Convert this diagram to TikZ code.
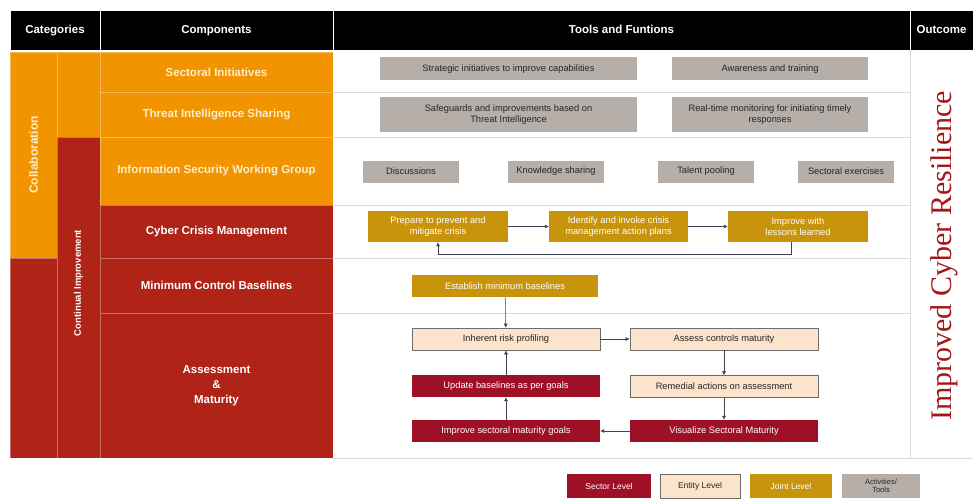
\documentclass[tikz,border=0pt]{standalone}
\usepackage{fontspec}
\setmainfont{Liberation Sans}
\newfontfamily\outfont{Liberation Serif}
\usetikzlibrary{positioning,arrows.meta}
\definecolor{collorange}{RGB}{242,148,0}
\definecolor{compred}{RGB}{176,36,24}
\definecolor{creamtxt}{RGB}{255,238,200}
\definecolor{jointgold}{RGB}{199,148,12}
\definecolor{sectorred}{RGB}{158,16,38}
\definecolor{entitypeach}{RGB}{252,228,204}
\definecolor{toolgrey}{RGB}{182,174,168}
\definecolor{sepgrey}{RGB}{214,219,226}
\definecolor{linegrey}{RGB}{60,66,84}
\definecolor{outred}{RGB}{165,22,22}
\tikzset{
  hdr/.style={fill=black, draw=white, line width=0.6pt, text=white, font=\bfseries\fontsize{11.5}{13}\selectfont, minimum height=40pt, inner sep=0pt, text height=1.6ex, text depth=0.4ex},
  cell/.style={text=white, font=\bfseries\fontsize{11.5}{15}\selectfont, align=center, inner sep=0pt, draw=white, draw opacity=0.35, line width=0.6pt},
  orcell/.style={cell, fill=collorange, text=creamtxt},
  rdcell/.style={cell, fill=compred},
  cardbox/.style={minimum height=#1, inner sep=1pt, align=center, font=\fontsize{9.3}{10.5}\selectfont},
  tool/.style={cardbox=23pt, fill=toolgrey, text=black!85},
  joint/.style={cardbox=31pt, fill=jointgold, text=white},
  entity/.style={cardbox=22pt, fill=entitypeach, draw=gray!85!black, line width=0.6pt, text=black!85},
  sector/.style={cardbox=22pt, fill=sectorred, text=white},
  legend/.style={minimum height=24pt, font=\fontsize{8.5}{9}\selectfont},
  flow/.style={draw=linegrey, line width=0.5pt, -{Latex[length=4pt,width=4pt]}},
  sep/.style={draw=sepgrey, line width=0.6pt}
}
\begin{document}
\begin{tikzpicture}[x=1pt,y=-1pt]
  \useasboundingbox (0,0) rectangle (973,500);
  % header
  \node[hdr, minimum width=90pt] (hcat) at (55,30) {Categories};
  \node[hdr, minimum width=233pt] (hcomp) at (216.5,30) {Components};
  \node[hdr, minimum width=577pt] (htools) at (621.5,30) {Tools and Funtions};
  \node[hdr, minimum width=63pt] (hout) at (941.5,30) {Outcome};
  % categories
  \node[orcell, rotate=90, minimum width=206pt, minimum height=47pt, font=\bfseries\fontsize{12}{14}\selectfont] (collab) at (33.5,155) {Collaboration};
  \node[rdcell, minimum width=47pt, minimum height=200pt] (collabred) at (33.5,358) {};
  \node[orcell, minimum width=43pt, minimum height=85pt] (ciorange) at (78.5,94.5) {};
  \node[rdcell, minimum width=43pt, minimum height=321pt] (contimp) at (78.5,297.5) {};
  \node[rotate=90, text=white, font=\bfseries\fontsize{9.5}{11}\selectfont] (contimptxt) at (78.5,283) {Continual Improvement};
  % components
  \node[orcell, minimum width=233pt, minimum height=40pt] (secinit) at (216.5,72) {Sectoral Initiatives};
  \node[orcell, minimum width=233pt, minimum height=45pt] (threat) at (216.5,114.5) {Threat Intelligence Sharing};
  \node[orcell, minimum width=233pt, minimum height=68pt] (iswg) at (216.5,171) {Information Security Working Group};
  \node[rdcell, minimum width=233pt, minimum height=53pt] (crisis) at (216.5,231.5) {Cyber Crisis Management};
  \node[rdcell, minimum width=233pt, minimum height=55pt] (baseln) at (216.5,285.5) {Minimum Control Baselines};
  \node[rdcell, minimum width=233pt, minimum height=145pt] (assess) at (216.5,385.5) {Assessment\\\&\\Maturity};
  % grid of the tools area
  \foreach \y in {92,137,205,258,313} \draw[sep] (333,\y) -- (910,\y);
  \draw[sep] (910,50) -- (910,458); \draw[sep] (333,458) -- (973,458);
  % tools and functions
  \node[tool, minimum width=257pt] (strat) at (508.5,69) {Strategic initiatives to improve capabilities};
  \node[tool, minimum width=196pt] (aware) at (770,69) {Awareness and training};
  \node[tool, minimum width=257pt, minimum height=34pt] (safeg) at (508.5,114.5) {Safeguards and improvements based on\\Threat Intelligence};
  \node[tool, minimum width=196pt, minimum height=34pt] (realt) at (770,114.5) {Real-time monitoring for initiating timely\\responses};
  \node[tool, minimum width=96pt, minimum height=22pt] (discuss) at (411,171.5) {Discussions};
  \node[tool, minimum width=96pt, minimum height=22pt] (knowl) at (556,171.5) {Knowledge sharing};
  \node[tool, minimum width=96pt, minimum height=22pt] (talent) at (706,171.5) {Talent pooling};
  \node[tool, minimum width=96pt, minimum height=22pt] (exerc) at (846,171.5) {Sectoral exercises};
  \node[joint, minimum width=140pt] (prep) at (438,226.5) {Prepare to prevent and\\mitigate crisis};
  \node[joint, minimum width=139pt] (ident) at (618.5,226.5) {Identify and invoke crisis\\management action plans};
  \node[joint, minimum width=140pt] (lessons) at (798,226.5) {Improve with\\lessons learned};
  \coordinate (fbk) at (438,254);
  \draw[flow] (prep) -- (ident); \draw[flow] (ident) -- (lessons);
  \draw[flow] ([xshift=-7pt]lessons.south) |- (fbk) -- (prep.south);
  \node[joint, minimum width=186pt, minimum height=22pt] (establ) at (505,286) {Establish minimum baselines};
  \node[entity, minimum width=188pt] (inher) at (506,339) {Inherent risk profiling};
  \node[entity, minimum width=188pt] (assessc) at (724,339) {Assess controls maturity};
  \node[entity, minimum width=188pt] (remed) at (724,386.5) {Remedial actions on assessment};
  \node[sector, minimum width=188pt] (update) at (506,386) {Update baselines as per goals};
  \node[sector, minimum width=188pt] (visual) at (724,431) {Visualize Sectoral Maturity};
  \node[sector, minimum width=188pt] (improve) at (506,431) {Improve sectoral maturity goals};
  \draw[flow] (establ) -- (inher); \draw[flow] (inher) -- (assessc);
  \draw[flow] (assessc) -- (remed); \draw[flow] (remed) -- (visual);
  \draw[flow] (visual) -- (improve); \draw[flow] (improve) -- (update);
  \draw[flow] (update) -- (inher);
  % outcome
  \node[rotate=90, text=outred, font=\outfont\fontsize{30}{34}\selectfont] (outc) at (944,256) {Improved Cyber Resilience};
  % legend
  \node[sector, legend, minimum width=84pt] (lgsec) at (609,486) {Sector Level};
  \node[entity, legend, minimum width=80pt] (lgent) at (700,486) {Entity Level};
  \node[joint, legend, minimum width=82pt] (lgjoint) at (791,486) {Joint Level};
  \node[tool, legend, minimum width=78pt, font=\fontsize{7.5}{8.5}\selectfont] (lgtool) at (881,486) {Activities/\\Tools};
\end{tikzpicture}
\end{document}
